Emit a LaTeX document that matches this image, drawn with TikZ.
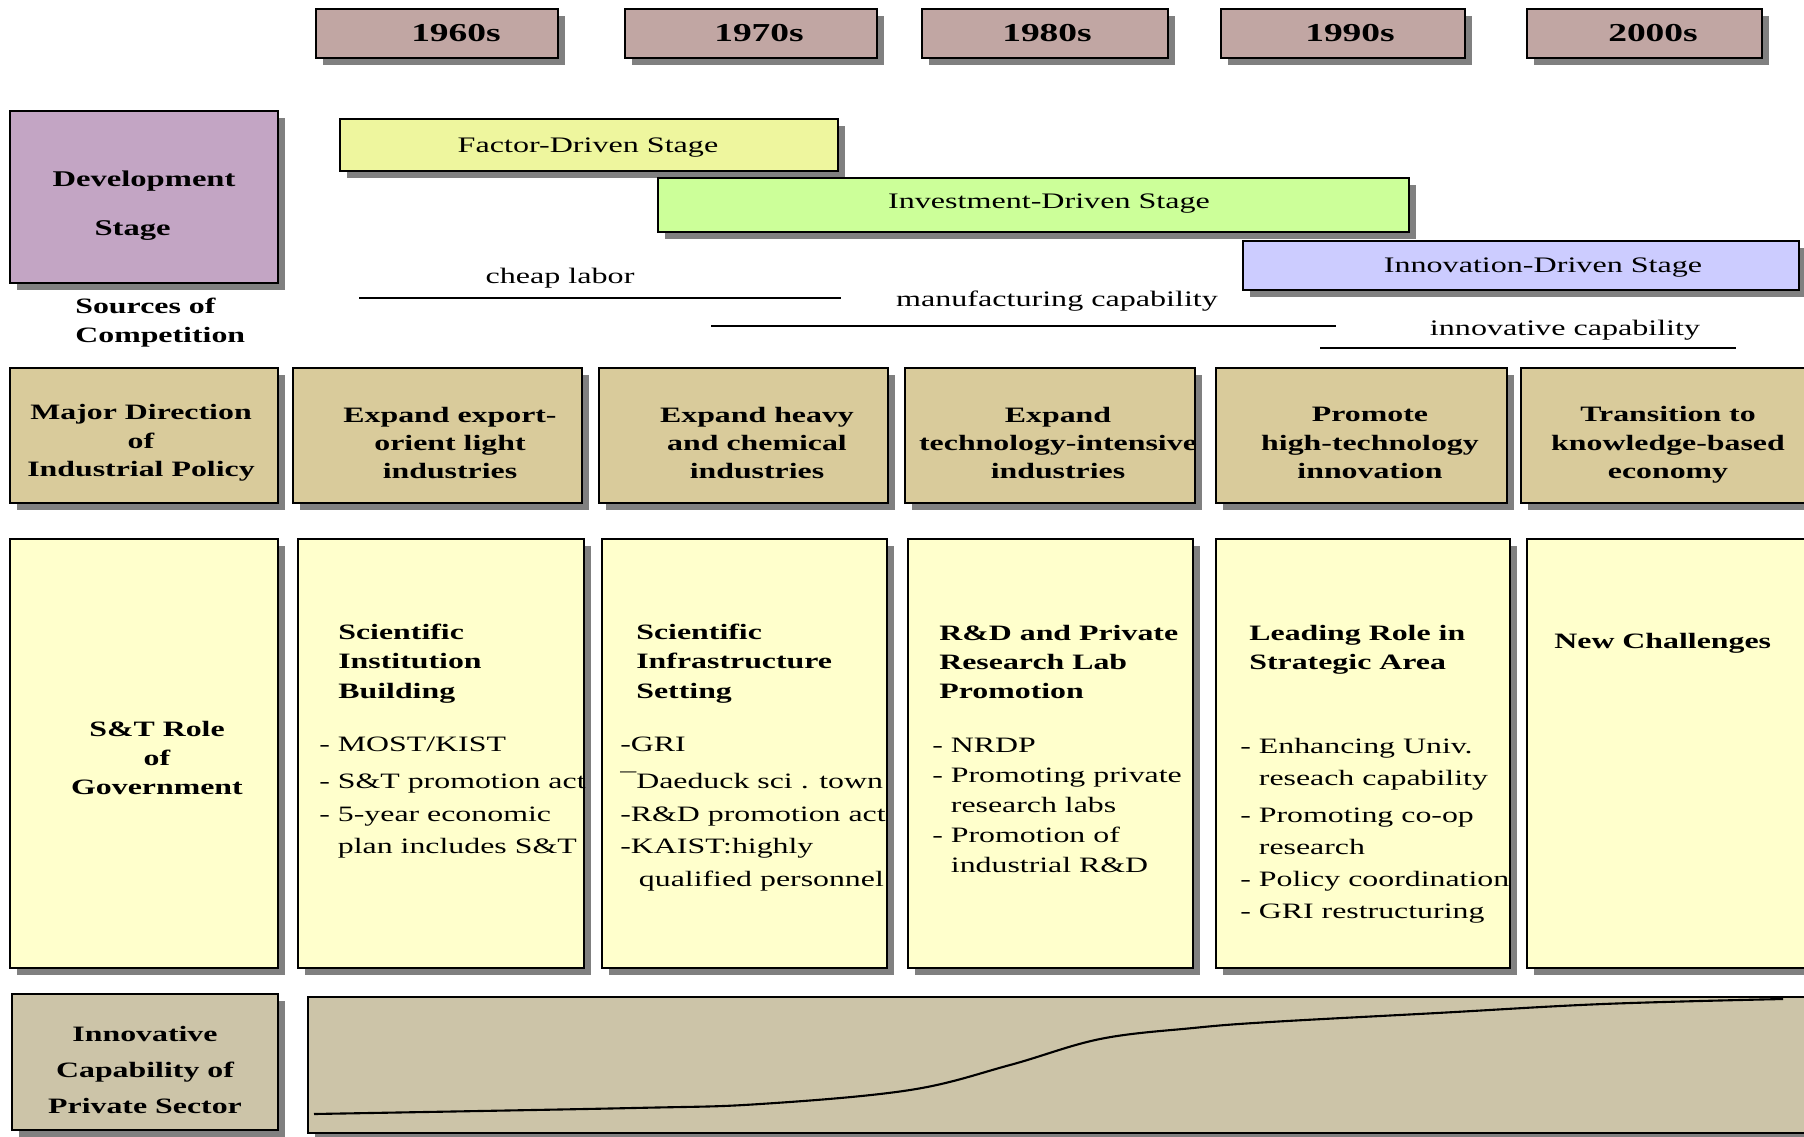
\documentclass[tikz,border=0pt]{standalone}
\usepackage{fontspec}
\setmainfont{Liberation Serif}[FakeStretch=1.45]
\usetikzlibrary{shadows}
\definecolor{yearcol}{RGB}{193,166,163}
\definecolor{devcol}{RGB}{195,165,196}
\definecolor{factorcol}{RGB}{238,246,158}
\definecolor{investcol}{RGB}{204,255,153}
\definecolor{innovcol}{RGB}{204,204,255}
\definecolor{dircol}{RGB}{217,203,155}
\definecolor{rolecol}{RGB}{255,255,204}
\definecolor{capcol}{RGB}{204,196,168}
\definecolor{shadowgray}{RGB}{128,128,128}
\begin{document}
\begin{tikzpicture}[x=0.02cm, y=-0.02cm,
    boxshadow/.style={drop shadow={shadow xshift=4pt, shadow yshift=-4pt, opacity=1, fill=shadowgray}},
    box/.style={draw, rectangle, line width=1.5pt, inner sep=0pt, boxshadow},
    year/.style={box, fill=yearcol, minimum height=0.98cm},
    yeart/.style={inner sep=0pt, font=\bfseries\fontsize{14.7}{17}\selectfont},
    stagebox/.style={box, minimum height=1.04cm},
    dirbox/.style={box, fill=dircol, minimum height=2.70cm},
    rolebox/.style={box, fill=rolecol, minimum height=8.58cm},
    capbox/.style={box, fill=capcol, minimum height=2.72cm},
    hd/.style={inner sep=0pt, align=center, font=\bfseries\fontsize{12.5}{16.2}\selectfont},
    hdl/.style={inner sep=0pt, anchor=north west, align=left, font=\bfseries\fontsize{12.5}{16.6}\selectfont},
    item/.style={inner sep=0pt, anchor=north west, align=left, font=\fontsize{12.5}{18.7}\selectfont},
    lbl/.style={inner sep=0pt, font=\fontsize{12.6}{15}\selectfont},
    rule/.style={line width=1.4pt}]
    \useasboundingbox (0,0) rectangle (1804,1136);
    \clip (0,0) rectangle (1804,1136);

    \node[year, minimum width=4.84cm] (y60) at (437,33.5)    {};
    \node[year, minimum width=5.04cm] (y70) at (751,33.5)    {};
    \node[year, minimum width=4.92cm] (y80) at (1045,33.5)   {};
    \node[year, minimum width=4.88cm] (y90) at (1343,33.5)   {};
    \node[year, minimum width=4.70cm] (y00) at (1644.5,33.5) {};
    \node[yeart] (y60t) at (456,33)  {1960s};
    \node[yeart] (y70t) at (759,33)  {1970s};
    \node[yeart] (y80t) at (1047,33) {1980s};
    \node[yeart] (y90t) at (1350,33) {1990s};
    \node[yeart] (y00t) at (1653,33) {2000s};

    \node[box, fill=devcol, minimum width=5.36cm, minimum height=3.44cm] (dev) at (144,197) {};
    \node[hd, font=\bfseries\fontsize{12.8}{15}\selectfont] (devt) at (144,206) {Development\\[13pt]\hspace*{-13pt}Stage};

    \node[stagebox, fill=factorcol, minimum width=9.96cm] (factor) at (589,145) {};
    \node[stagebox, fill=investcol, minimum width=15.02cm, minimum height=1.08cm] (invest) at (1033.5,205) {};
    \node[stagebox, fill=innovcol, minimum width=11.12cm, minimum height=0.98cm] (innov) at (1521,265.5) {};
    \node[lbl] (factort) at (588,148)  {Factor-Driven Stage};
    \node[lbl] (investt) at (1049,204) {Investment-Driven Stage};
    \node[lbl] (innovt)  at (1543,268) {Innovation-Driven Stage};

    \node[hdl] (sources) at (75,298) {Sources of\\Competition};
    \node[lbl] (cheap) at (560,278)  {cheap labor};
    \node[lbl] (manuf) at (1057,301) {manufacturing capability};
    \node[lbl] (innocap) at (1565,330) {innovative capability};
    \draw[rule] (359,298)  -- (841,298);
    \draw[rule] (711,326)  -- (1336,326);
    \draw[rule] (1320,348) -- (1736,348);

    \node[dirbox, minimum width=5.36cm] (d0) at (144,435.5)    {};
    \node[dirbox, minimum width=5.78cm] (d1) at (437.5,435.5)  {};
    \node[dirbox, minimum width=5.78cm] (d2) at (743.5,435.5)  {};
    \node[dirbox, minimum width=5.80cm] (d3) at (1050,435.5)   {};
    \node[dirbox, minimum width=5.82cm] (d4) at (1361.5,435.5) {};
    \node[dirbox, minimum width=6.18cm] (d5) at (1675.5,435.5) {};
    \node[hd] (d0t) at (141,443)  {Major Direction\\of\\Industrial Policy};
    \node[hd] (d1t) at (450,443)  {Expand export-\\orient light\\industries};
    \node[hd] (d2t) at (757,443)  {Expand heavy\\and chemical\\industries};
    \node[hd] (d3t) at (1058,443) {Expand\\technology-intensive\\industries};
    \node[hd] (d4t) at (1370,443) {Promote\\high-technology\\innovation};
    \node[hd] (d5t) at (1668,445) {Transition to\\knowledge-based\\economy};

    \node[rolebox, minimum width=5.36cm] (r0) at (144,753.5)    {};
    \node[rolebox, minimum width=5.72cm] (r1) at (441,753.5)    {};
    \node[rolebox, minimum width=5.70cm] (r2) at (744.5,753.5)  {};
    \node[rolebox, minimum width=5.70cm] (r3) at (1050.5,753.5) {};
    \node[rolebox, minimum width=5.88cm] (r4) at (1363,753.5)   {};
    \node[rolebox, minimum width=6.06cm] (r5) at (1678.5,753.5) {};
    \node[hd, font=\bfseries\fontsize{12.5}{16.7}\selectfont] (r0t) at (157,758) {S\&T Role\\of\\Government};
    \node[hdl] (r1h) at (338,624) {Scientific\\Institution\\Building};
    \node[item] (r1i) at (319,737) {- MOST/KIST\\[2pt]- S\&T promotion act\\- 5-year economic\\\phantom{-}\ plan includes S\&T};
    \node[hdl] (r2h) at (636,624) {Scientific\\Infrastructure\\Setting};
    \node[item] (r2i) at (620,737) {-GRI\\[2pt]¯Daeduck sci . town\\-R\&D promotion act\\-KAIST:highly\\\phantom{-}\ qualified personnel};
    \node[hdl] (r3h) at (939,625) {R\&D and Private\\Research Lab\\Promotion};
    \node[item, font=\fontsize{12.5}{17}\selectfont] (r3i) at (932,738) {- NRDP\\- Promoting private\\\phantom{-}\ research labs\\- Promotion of\\\phantom{-}\ industrial R\&D};
    \node[hdl] (r4h) at (1249,625) {Leading Role in\\Strategic Area};
    \node[item, font=\fontsize{12.5}{18.2}\selectfont] (r4i) at (1240,738) {- Enhancing Univ.\\\phantom{-}\ reseach capability\\[3pt]- Promoting co-op\\\phantom{-}\ research\\- Policy coordination\\- GRI restructuring};
    \node[hdl] (r5h) at (1554,633) {New Challenges};

    \node[capbox, minimum width=5.32cm] (b0) at (145,1062) {};
    \node[capbox, minimum width=30.44cm] (b1) at (1069,1065) {};
    \node[hd, font=\bfseries\fontsize{12.5}{20.4}\selectfont] (b0t) at (145,1070) {Innovative\\Capability of\\Private Sector};
    \draw[line width=1.2pt] plot[smooth, tension=0.6] coordinates {(314,1114) (633,1108) (760,1104) (910,1090)
        (1010,1065) (1100,1039) (1193,1028) (1270,1022) (1437,1013) (1603,1004) (1783,999)};
\end{tikzpicture}
\end{document}
